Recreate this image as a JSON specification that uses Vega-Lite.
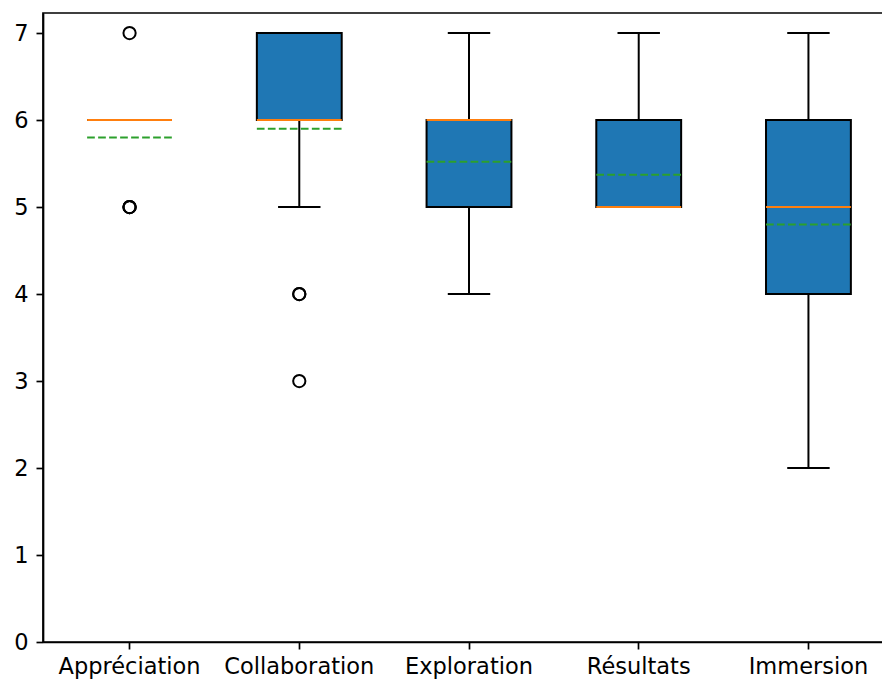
{
  "$schema": "https://vega.github.io/schema/vega-lite/v6.json",
  "autosize": "none",
  "padding": {"left": 43, "top": 13, "right": 0, "bottom": 40},
  "width": 852,
  "height": 629,
  "background": "white",
  "config": {
    "view": {"stroke": "black", "strokeWidth": 1.7},
    "axis": {
      "labelFont": "DejaVu Sans",
      "labelFontSize": 22.5,
      "labelColor": "black",
      "domainColor": "black",
      "domainWidth": 1.7,
      "tickColor": "black",
      "tickWidth": 1.7,
      "tickSize": 7,
      "grid": false,
      "title": null
    }
  },
  "datasets": {
    "boxes": [
      {"cat": "Appréciation", "lo": 6, "q1": 6, "med": 6, "q3": 6, "hi": 6, "mean": 5.8},
      {"cat": "Collaboration", "lo": 5, "q1": 6, "med": 6, "q3": 7, "hi": 7, "mean": 5.9},
      {"cat": "Exploration", "lo": 4, "q1": 5, "med": 6, "q3": 6, "hi": 7, "mean": 5.52},
      {"cat": "Résultats", "lo": 5, "q1": 5, "med": 5, "q3": 6, "hi": 7, "mean": 5.37},
      {"cat": "Immersion", "lo": 2, "q1": 4, "med": 5, "q3": 6, "hi": 7, "mean": 4.8}
    ],
    "fliers": [
      {"cat": "Appréciation", "v": 7},
      {"cat": "Appréciation", "v": 5},
      {"cat": "Appréciation", "v": 5},
      {"cat": "Appréciation", "v": 5},
      {"cat": "Collaboration", "v": 4},
      {"cat": "Collaboration", "v": 4},
      {"cat": "Collaboration", "v": 3}
    ]
  },
  "encoding": {
    "x": {
      "field": "cat",
      "type": "nominal",
      "sort": ["Appréciation", "Collaboration", "Exploration", "Résultats", "Immersion"],
      "scale": {"domain": ["Appréciation", "Collaboration", "Exploration", "Résultats", "Immersion"], "paddingInner": 0, "paddingOuter": 0.01},
      "axis": {"labelAngle": 0, "labelPadding": 6}
    }
  },
  "layer": [
    {
      "data": {"name": "boxes"},
      "mark": {"type": "bar", "width": {"band": 0.5}, "fill": "#1f77b4", "stroke": "black", "strokeWidth": 2},
      "encoding": {
        "y": {"field": "q1", "type": "quantitative", "scale": {"domain": [0, 7.23], "nice": false, "zero": false}, "axis": {"values": [0, 1, 2, 3, 4, 5, 6, 7], "format": "d", "labelPadding": 8}},
        "y2": {"field": "q3"}
      }
    },
    {
      "data": {"name": "boxes"},
      "mark": {"type": "rule", "color": "black", "strokeWidth": 2},
      "encoding": {
        "y": {"field": "q3", "type": "quantitative"},
        "y2": {"field": "hi"}
      }
    },
    {
      "data": {"name": "boxes"},
      "mark": {"type": "rule", "color": "black", "strokeWidth": 2},
      "encoding": {
        "y": {"field": "lo", "type": "quantitative"},
        "y2": {"field": "q1"}
      }
    },
    {
      "data": {"name": "boxes"},
      "mark": {"type": "rule", "color": "black", "strokeWidth": 2},
      "encoding": {
        "x": {"field": "cat", "type": "nominal", "bandPosition": 0.375},
        "x2": {"field": "cat", "bandPosition": 0.625},
        "y": {"field": "hi", "type": "quantitative"}
      }
    },
    {
      "data": {"name": "boxes"},
      "mark": {"type": "rule", "color": "black", "strokeWidth": 2},
      "encoding": {
        "x": {"field": "cat", "type": "nominal", "bandPosition": 0.375},
        "x2": {"field": "cat", "bandPosition": 0.625},
        "y": {"field": "lo", "type": "quantitative"}
      }
    },
    {
      "data": {"name": "boxes"},
      "mark": {"type": "rule", "color": "#ff7f0e", "strokeWidth": 2},
      "encoding": {
        "x": {"field": "cat", "type": "nominal", "bandPosition": 0.25},
        "x2": {"field": "cat", "bandPosition": 0.75},
        "y": {"field": "med", "type": "quantitative"}
      }
    },
    {
      "data": {"name": "fliers"},
      "mark": {"type": "point", "shape": "circle", "filled": false, "stroke": "black", "strokeWidth": 2, "size": 150, "opacity": 1},
      "encoding": {
        "y": {"field": "v", "type": "quantitative"}
      }
    },
    {
      "data": {"name": "boxes"},
      "mark": {"type": "rule", "color": "#2ca02c", "strokeWidth": 2, "strokeDash": [7.7, 3.3]},
      "encoding": {
        "x": {"field": "cat", "type": "nominal", "bandPosition": 0.25},
        "x2": {"field": "cat", "bandPosition": 0.75},
        "y": {"field": "mean", "type": "quantitative"}
      }
    }
  ]
}
